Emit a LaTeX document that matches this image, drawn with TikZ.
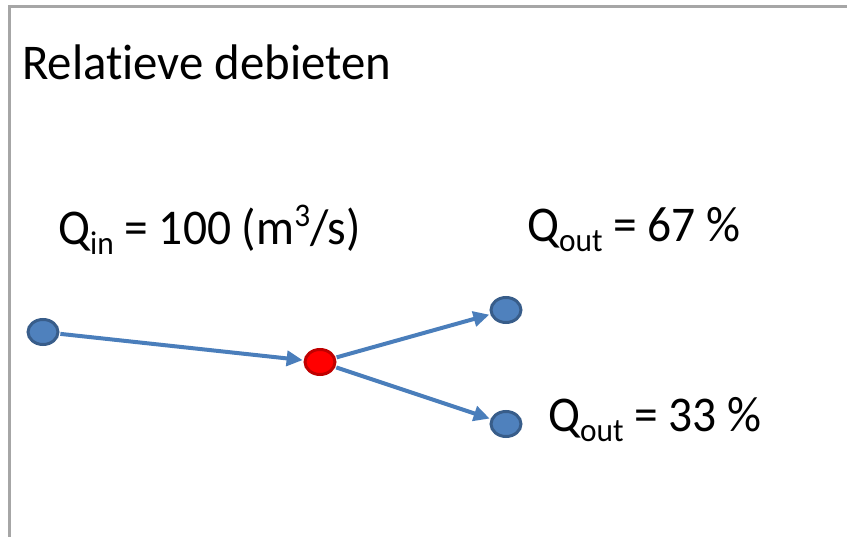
\documentclass[tikz,border=0pt]{standalone}
\usepackage{fontspec}
\setmainfont[Ligatures=NoCommon]{Carlito}
\usetikzlibrary{arrows.meta,shapes.geometric}
\definecolor{framegray}{HTML}{A6A6A6}
\definecolor{nodeblue}{HTML}{4F81BD}
\definecolor{nodeblueline}{HTML}{385D8A}
\definecolor{nodered}{HTML}{FF0000}
\definecolor{noderedline}{HTML}{C00000}
\definecolor{flowblue}{HTML}{4A7EBB}
\newcommand\mysub[1]{\raisebox{-0.19em}{\fontsize{33}{33}\selectfont #1}}
\newcommand\mysup[1]{\raisebox{0.36em}{\fontsize{33}{33}\selectfont #1}}
\tikzset{
  junction/.style={ellipse, draw=nodeblueline, fill=nodeblue, line width=3pt,
    minimum width=30pt, minimum height=25pt, inner sep=0pt},
  splitnode/.style={junction, draw=noderedline, fill=nodered},
  flow/.style={draw=flowblue, line width=4pt,
    -{Triangle[length=16pt,width=15pt]}, shorten >=1pt, shorten <=1pt},
  label/.style={anchor=base west, inner sep=0pt, font=\fontsize{50}{60}\selectfont},
}
\begin{document}
\begin{tikzpicture}[x=1pt,y=-1pt]
\useasboundingbox (0,0) rectangle (847,537);
\fill[white] (0,0) rectangle (847,537);
\draw[framegray, line width=3pt] (9,537) -- (9,7) -- (847,7);
\node[label] (title) at (22,80) {\scalebox{0.976}[1]{Relatieve debieten}};
\node[label] (qin) at (58,245) {\scalebox{0.95}[1]{Q\mysub{in} = 100 (m\mysup{3}/s)}};
\node[label] (qout1) at (527,242) {\scalebox{0.95}[1]{Q\mysub{out} = 67 \%}};
\node[label] (qout2) at (548,432) {\scalebox{0.95}[1]{Q\mysub{out} = 33 \%}};
\node[junction] (in) at (43,332) {};
\node[splitnode] (split) at (320,362) {};
\node[junction] (out1) at (506,310) {};
\node[junction] (out2) at (506,424) {};
\draw[flow] (in) -- (split);
\draw[flow] (split) -- (out1);
\draw[flow] (split) -- (out2);
\end{tikzpicture}
\end{document}
